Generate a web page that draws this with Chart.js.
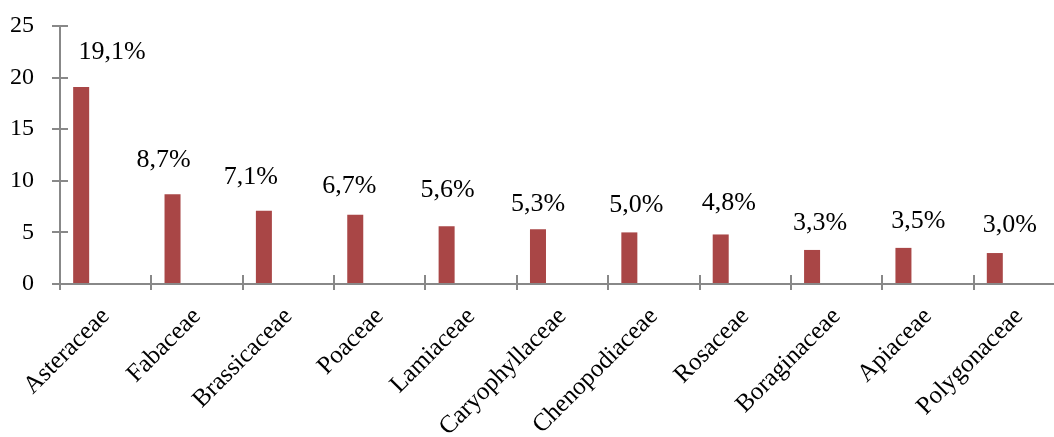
<!DOCTYPE html>
<html>
<head>
<meta charset="utf-8">
<script src="https://cdn.jsdelivr.net/npm/chart.js@4"></script>
<style>
  html, body { margin: 0; padding: 0; background: #fff; overflow: hidden; }
  #wrap { width: 1065px; height: 437px; position: relative; }
</style>
</head>
<body>
<div id="wrap"><canvas id="chart"></canvas></div>
<script>
// Chart data
const families = ['Asteraceae', 'Fabaceae', 'Brassicaceae', 'Poaceae', 'Lamiaceae', 'Caryophyllaceae',
    'Chenopodiaceae', 'Rosaceae', 'Boraginaceae', 'Apiaceae', 'Polygonaceae'];
const shares = [19.1, 8.7, 7.1, 6.7, 5.6, 5.3, 5.0, 4.8, 3.3, 3.5, 3.0];
const shareLabels = ['19,1%', '8,7%', '7,1%', '6,7%', '5,6%', '5,3%', '5,0%', '4,8%', '3,3%', '3,5%', '3,0%'];
const yTicks = [0, 5, 10, 15, 20, 25];

// Hand-placed label nudges (px), relative to the bar top centre
const labelDx = [31, -9, -13, -6, 1, 0, 7, 8, 8, 15, 15];
const labelDy = [-28, -27, -27, -22, -29, -18, -20, -24, -20, -20, -21];

const axisColor = '#888888';
const serif = '"Liberation Serif", "Times New Roman", serif';

// Ticks that cross the axis: draw the inner half
const innerTicks = {
    id: 'innerTicks',
    afterDraw(chart) {
        const { ctx, chartArea, scales: { x, y } } = chart;
        ctx.save();
        ctx.strokeStyle = axisColor;
        ctx.lineWidth = 2;
        ctx.beginPath();
        yTicks.forEach(v => {
            const py = Math.round(y.getPixelForValue(v));
            ctx.moveTo(chartArea.left, py);
            ctx.lineTo(chartArea.left + 8, py);
        });
        const step = x.getPixelForValue(1) - x.getPixelForValue(0);
        const start = x.getPixelForValue(0) - step / 2;
        for (let i = 0; i <= families.length; i++) {
            const px = Math.round(start + i * step);
            ctx.moveTo(px, chartArea.bottom);
            ctx.lineTo(px, chartArea.bottom - 9);
        }
        ctx.stroke();
        ctx.restore();
    }
};

// Percent labels above bars
const barLabels = {
    id: 'barLabels',
    afterDatasetsDraw(chart) {
        const { ctx } = chart;
        const meta = chart.getDatasetMeta(0);
        ctx.save();
        ctx.fillStyle = '#000';
        ctx.font = '26px ' + serif;
        ctx.textAlign = 'center';
        ctx.textBaseline = 'alphabetic';
        meta.data.forEach((bar, i) => {
            ctx.fillText(shareLabels[i], bar.x + labelDx[i], bar.y + labelDy[i]);
        });
        ctx.restore();
    }
};

new Chart(document.getElementById('chart'), {
    type: 'bar',
    data: {
        labels: families,
        datasets: [
            { data: shares, backgroundColor: '#A94646', borderWidth: 0 },
            { data: [] },
            { data: [] }
        ]
    },
    options: {
        responsive: true,
        maintainAspectRatio: false,
        animation: false,
        categoryPercentage: 0.805,
        barPercentage: 0.653,
        layout: { padding: { top: 26, right: 0, bottom: 0, left: 0 } },
        plugins: { legend: { display: false }, tooltip: { enabled: false } },
        scales: {
            x: {
                border: { display: true, color: axisColor, width: 2 },
                grid: { display: true, offset: true, drawOnChartArea: false, drawTicks: true, tickLength: 6, color: axisColor, lineWidth: 2 },
                ticks: {
                    color: '#000',
                    font: { family: serif, size: 25 },
                    maxRotation: 45,
                    minRotation: 45,
                    autoSkip: false,
                    padding: 12
                },
                afterFit(scale) { scale.height = 153; }
            },
            y: {
                min: 0,
                max: 25,
                border: { display: true, color: axisColor, width: 2 },
                grid: { display: true, drawOnChartArea: false, drawTicks: true, tickLength: 8, color: axisColor, lineWidth: 2 },
                ticks: {
                    color: '#000',
                    font: { family: serif, size: 24 },
                    stepSize: 5,
                    padding: 18
                },
                afterFit(scale) {
                    scale.width = 60;
                    scale.paddingTop = 0;
                    scale.paddingBottom = 0;
                }
            }
        }
    },
    plugins: [innerTicks, barLabels]
});
</script>
</body>
</html>
